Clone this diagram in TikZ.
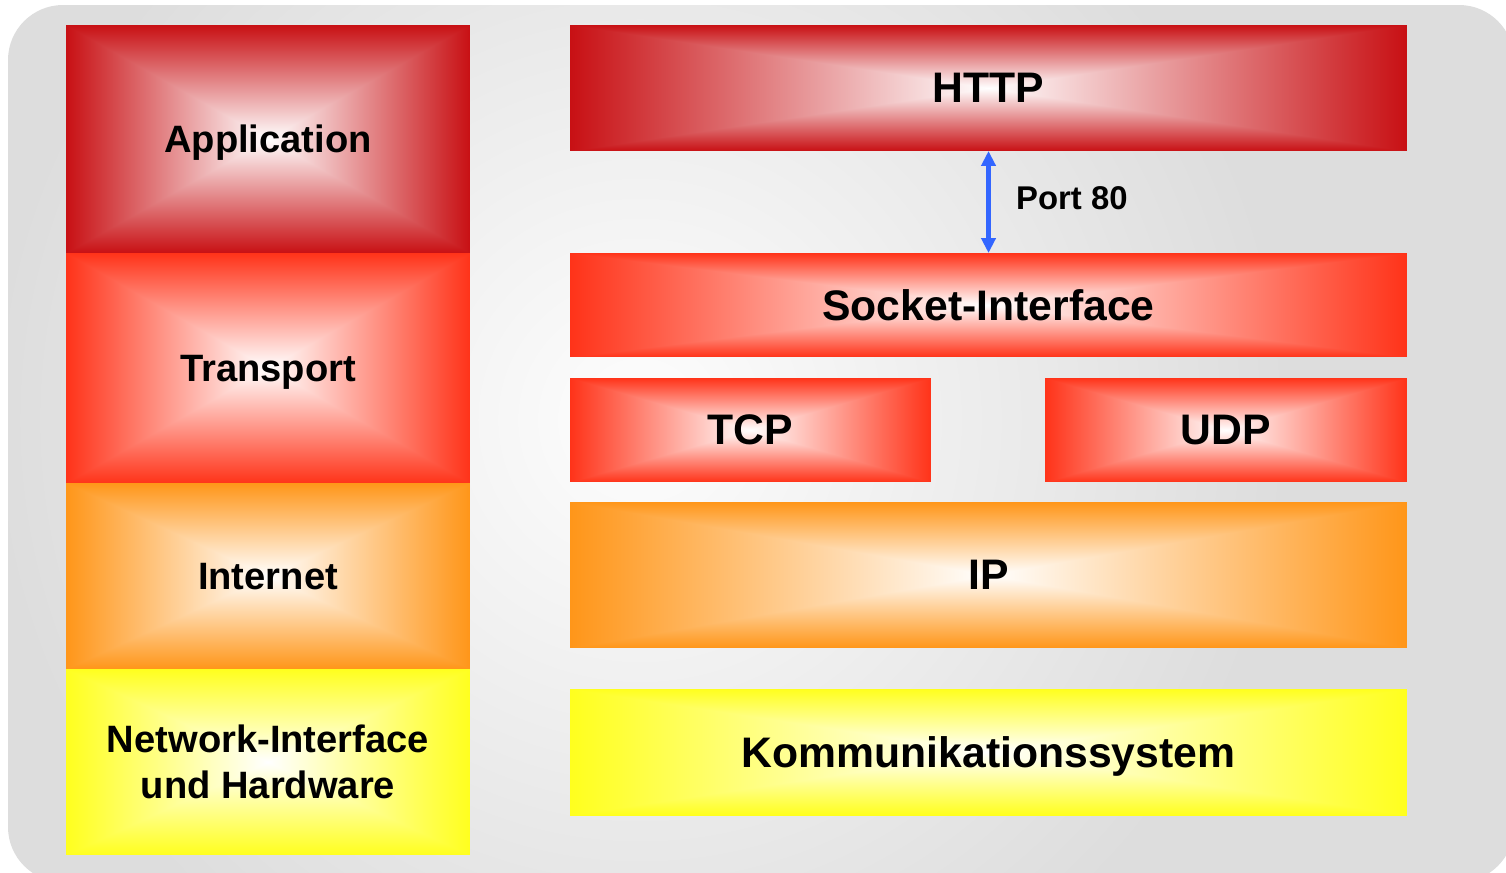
\documentclass[tikz,border=0pt]{standalone}
\usepackage{fontspec}
\setmainfont{Liberation Sans}
\usetikzlibrary{arrows.meta}
\definecolor{mygray}{RGB}{221,221,221}
\definecolor{myarrow}{RGB}{51,102,255}

% rectangular gradient: colour at the border, white in the middle
\newcommand\boxshading[4]{%
  \pgfdeclarefunctionalshading{#1}{\pgfpoint{-50bp}{-50bp}}{\pgfpoint{50bp}{50bp}}{}{%
    abs exch abs 2 copy sub abs add add 50 div
    dup #2 mul 1 exch sub exch
    dup #3 mul 1 exch sub exch
    #4 mul 1 exch sub}}
\boxshading{darkredshade}{0.216}{0.937}{0.922}
\boxshading{redshade}{0}{0.8}{0.902}
\boxshading{orangeshade}{0}{0.412}{0.902}
\boxshading{yellowshade}{0}{0}{0.882}

\tikzstyle{layer} = [shade, outer sep=0, inner sep=0, align=center, text depth=0pt]
\tikzstyle{modellayer} = [layer, minimum width=8.08cm,
    font=\fontsize{21.7}{26}\selectfont\bfseries]
\tikzstyle{protolayer} = [layer, font=\fontsize{24.3}{28}\selectfont\bfseries]

\begin{document}
\begin{tikzpicture}[x=0.02cm, y=-0.02cm]
\useasboundingbox (0,0) rectangle (1506,872);

%%% background
\fill[mygray, rounded corners=1.1cm] (8,5) rectangle (1514,882);
\begin{scope}
\clip[rounded corners=1.1cm] (8,5) rectangle (1514,882);
\shade[inner color=white!96!mygray, outer color=mygray] (640,420) circle (13cm);
\end{scope}

%%% model layers
\node[modellayer, shading=darkredshade, minimum height=4.56cm] (app) at (268,139) {Application};
\node[modellayer, shading=redshade, minimum height=4.60cm] (transp) at (268,368) {Transport};
\node[modellayer, shading=orangeshade, minimum height=3.72cm] (inet) at (268,576) {Internet};
\node[modellayer, shading=yellowshade, minimum height=3.72cm] (netif) at (268,762) {Network-Interface\\und Hardware};

%%% protocols
\node[protolayer, shading=darkredshade, minimum width=16.74cm, minimum height=2.52cm] (http) at (988.5,88) {HTTP};
\node[protolayer, shading=redshade, minimum width=16.74cm, minimum height=2.08cm] (sock) at (988.5,305) {Socket-Interface};
\node[protolayer, shading=redshade, minimum width=7.22cm, minimum height=2.08cm] (tcp) at (750.5,430) {TCP};
\node[protolayer, shading=redshade, minimum width=7.24cm, minimum height=2.08cm] (udp) at (1226,430) {UDP};
\node[protolayer, shading=orangeshade, minimum width=16.74cm, minimum height=2.92cm] (ip) at (988.5,575) {IP};
\node[protolayer, shading=yellowshade, minimum width=16.74cm, minimum height=2.52cm] (komm) at (988.5,752) {Kommunikationssystem};

\draw[myarrow, line width=2.8pt, {Triangle[length=8.5pt,width=8pt]}-{Triangle[length=8.5pt,width=8pt]}]
    (http) -- (sock);
\node[anchor=west, font=\fontsize{18.7}{22}\selectfont\bfseries] (port) at (1010,198) {Port 80};

\end{tikzpicture}
\end{document}
